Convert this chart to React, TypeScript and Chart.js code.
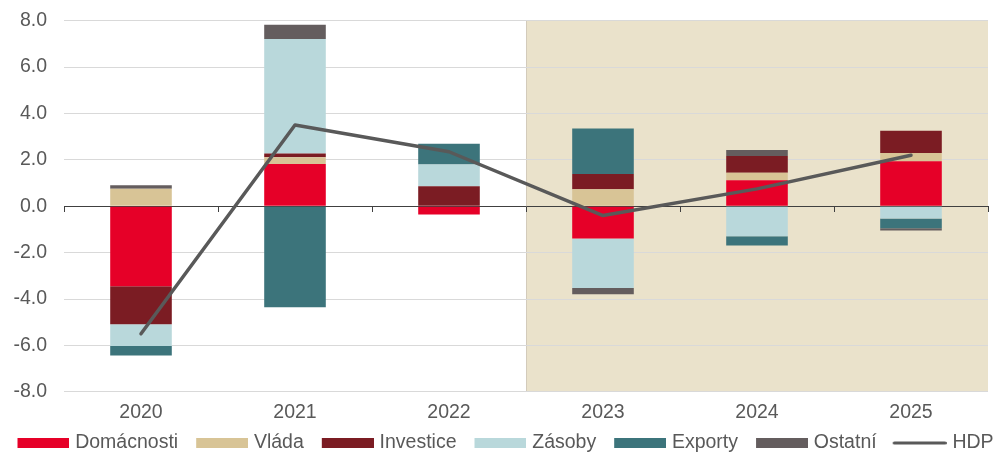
import React, { useEffect, useRef } from 'react';
import { Chart, registerables } from 'chart.js';

Chart.register(...registerables);

const years = ['2020', '2021', '2022', '2023', '2024', '2025'];
const domacnosti = [-3.45, 1.82, -0.36, -1.39, 1.12, 1.94];
const vlada = [0.75, 0.29, 0, 0.73, 0.32, 0.36];
const investice = [-1.64, 0.16, 0.86, 0.66, 0.73, 0.96];
const zasoby = [-0.93, 4.94, 0.94, -2.14, -1.29, -0.53];
const exporty = [-0.42, -4.36, 0.89, 1.96, -0.4, -0.42];
const ostatni = [0.16, 0.62, 0, -0.26, 0.26, -0.1];
const hdp = [-5.5, 3.5, 2.35, -0.4, 0.75, 2.2];
const yTicks = [-8, -6, -4, -2, 0, 2, 4, 6, 8];

const FONT = "'Liberation Sans', Arial, sans-serif";
const TEXT = '#595959';
const FS = 19.5;

const COLORS = {
  dom: '#E60028',
  vla: '#D8C496',
  inv: '#7B1C23',
  zas: '#B9D8DB',
  exp: '#3C747B',
  ost: '#645D5E',
  hdp: '#595959',
  shade: '#EAE2CB',
};

// legend icons: transparent lead-in on the left, mark on the right
const ICON_W = 74;

function rectIcon(color: string) {
  const c = document.createElement('canvas');
  c.width = ICON_W;
  c.height = 10;
  const g = c.getContext('2d')!;
  g.fillStyle = color;
  g.fillRect(ICON_W - 52, 0, 52, 10);
  return c;
}

function lineIcon(color: string) {
  const c = document.createElement('canvas');
  c.width = ICON_W;
  c.height = 6;
  const g = c.getContext('2d')!;
  g.strokeStyle = color;
  g.lineWidth = 3.2;
  g.lineCap = 'round';
  g.beginPath();
  g.moveTo(ICON_W - 54 + 1.6, 3);
  g.lineTo(ICON_W - 1.6, 3);
  g.stroke();
  return c;
}

export default function App() {
  const ref = useRef<HTMLCanvasElement>(null);

  useEffect(() => {
    if (!ref.current) return;

    const shadePlugin = {
      id: 'shade',
      beforeDraw(chart: any) {
        const { ctx, chartArea, scales } = chart;
        const xs = scales.x;
        const left = (xs.getPixelForValue(2) + xs.getPixelForValue(3)) / 2;
        ctx.save();
        ctx.fillStyle = COLORS.shade;
        ctx.fillRect(left, chartArea.top, chartArea.right - left, chartArea.bottom - chartArea.top);
        ctx.strokeStyle = '#D3CBBB';
        ctx.lineWidth = 1;
        ctx.beginPath();
        const lx = Math.round(left) + 0.5;
        ctx.moveTo(lx, chartArea.top);
        ctx.lineTo(lx, chartArea.bottom);
        ctx.stroke();
        ctx.restore();
      },
    };

    const legendShift = {
      id: 'legendShift',
      afterLayout(chart: any) {
        const l = chart.legend;
        if (l) {
          l.left -= 4;
          l.right -= 4;
          l.top += 7;
          l.bottom += 7;
        }
      },
    };

    const barBase = {
      type: 'bar' as const,
      stack: 'bars',
      xAxisID: 'x',
      yAxisID: 'y',
      borderWidth: 0,
      barPercentage: 0.4,
      categoryPercentage: 1,
      order: 1,
    };

    const mk = (label: string, data: number[], color: string) => ({
      ...barBase,
      label,
      data,
      backgroundColor: color,
      pointStyle: rectIcon(color),
    });

    const chart = new Chart(ref.current, {
      type: 'bar',
      data: {
        labels: years,
        datasets: [
          mk('Domácnosti', domacnosti, COLORS.dom),
          mk('Vláda', vlada, COLORS.vla),
          mk('Investice', investice, COLORS.inv),
          mk('Zásoby', zasoby, COLORS.zas),
          mk('Exporty', exporty, COLORS.exp),
          mk('Ostatní', ostatni, COLORS.ost),
          {
            type: 'line' as const,
            label: 'HDP',
            data: hdp,
            stack: 'hdp',
            xAxisID: 'x',
            yAxisID: 'y',
            borderColor: COLORS.hdp,
            backgroundColor: COLORS.hdp,
            borderWidth: 3.5,
            pointRadius: 0,
            pointHoverRadius: 0,
            tension: 0,
            fill: false,
            borderJoinStyle: 'round',
            borderCapStyle: 'round',
            pointStyle: lineIcon(COLORS.hdp),
            order: 0,
          } as any,
        ],
      },
      options: {
        animation: false,
        responsive: false,
        layout: { padding: { left: 0, right: 0, top: 20.7, bottom: -3.7 } },
        plugins: {
          legend: {
            position: 'bottom',
            labels: {
              usePointStyle: true,
              pointStyleWidth: 66,
              boxHeight: 10,
              padding: 0,
              color: TEXT,
              font: { family: FONT, size: FS },
              sort: (a: any, b: any) => a.datasetIndex - b.datasetIndex,
            },
          },
          tooltip: { enabled: false },
        },
        scales: {
          x: {
            type: 'category',
            axis: 'x',
            position: { y: 0 } as any,
            stacked: true,
            offset: true,
            grid: {
              display: true,
              drawOnChartArea: false,
              drawTicks: true,
              tickLength: 5,
              tickColor: '#404040',
              offset: true,
            },
            border: { display: true, color: '#404040', width: 1 },
            ticks: { display: false },
          },
          x2: {
            type: 'category',
            axis: 'x',
            labels: years,
            position: 'bottom',
            offset: true,
            grid: { display: false },
            border: { display: false },
            ticks: { color: TEXT, font: { family: FONT, size: FS }, padding: 1.5 },
          },
          y: {
            stacked: true,
            min: yTicks[0],
            max: yTicks[yTicks.length - 1],
            afterBuildTicks: (s: any) => {
              s.ticks = yTicks.map((v) => ({ value: v }));
            },
            afterFit: (s: any) => {
              s.width = 64;
              s.paddingTop = 0;
              s.paddingBottom = 0;
            },
            ticks: {
              color: TEXT,
              font: { family: FONT, size: FS },
              padding: 17,
              callback: (v: any) => Number(v).toFixed(1),
            },
            grid: {
              color: (c: any) => (c.tick && c.tick.value === 0 ? 'rgba(0,0,0,0)' : '#D9D9D9'),
              lineWidth: 1,
              drawTicks: false,
            },
            border: { display: false },
          },
          yR: {
            type: 'linear',
            axis: 'y',
            position: 'right',
            display: true,
            grid: { display: false },
            border: { display: false },
            ticks: { display: false },
            afterFit: (s: any) => {
              s.width = 13;
              s.paddingTop = 0;
              s.paddingBottom = 0;
            },
          },
        },
      } as any,
      plugins: [shadePlugin, legendShift],
    });

    return () => chart.destroy();
  }, []);

  return (
    <div style={{ position: 'fixed', left: 0, top: 0, width: 1001, height: 452, background: '#fff' }}>
      <canvas ref={ref} width={1001} height={452} style={{ display: 'block' }} />
    </div>
  );
}
